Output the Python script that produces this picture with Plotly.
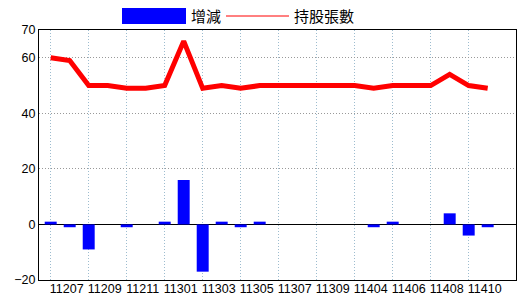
import plotly.graph_objects as go

months = ['11206', '11207', '11208', '11209', '11210', '11211', '11212', '11301',
          '11302', '11303', '11304', '11305', '11306', '11307', '11308', '11309',
          '11310', '11404', '11405', '11406', '11407', '11408', '11409', '11410']
change = [1, -1, -9, 0, -1, 0, 1, 16, -17, 1, -1, 1, 0, 0, 0, 0, 0, -1, 1, 0, 0, 4, -4, -1]
holders = [60, 59, 50, 50, 49, 49, 50, 66, 49, 50, 49, 50, 50, 50, 50, 50, 50, 49, 50, 50, 50, 54, 50, 49]
y_ticks = [-20, 0, 20, 40, 60, 70]

x = list(range(len(months)))
fig = go.Figure()
fig.add_trace(go.Bar(x=x, y=change, name='增減', marker=dict(color='#0000ff', line=dict(width=0))))
fig.add_trace(go.Scatter(x=x, y=holders, name='持股張數', mode='lines',
                         line=dict(color='#ff0000', width=5)))

tv = x[1::2]
fig.update_layout(
    template='none',
    width=520, height=300,
    margin=dict(l=39, r=4, t=30, b=20),
    paper_bgcolor='white', plot_bgcolor='white',
    showlegend=False, bargap=0.37,
    font=dict(family='Liberation Sans Narrow, Liberation Sans', size=12.5, color='black'),
    xaxis=dict(range=[-0.616, 24.49], tickmode='array', tickvals=tv, automargin=False,
               ticktext=[months[i] for i in tv], showgrid=False, ticks='',
               ticklabelshift=-3, ticklabelstandoff=-3,
               showline=True, linecolor='black', linewidth=1, mirror=True, zeroline=False,
               minor=dict(tickmode='array', tickvals=x[0::2], showgrid=True,
                          gridcolor='#9dbccf', griddash='1px,2px', gridwidth=1, ticks='')),
    yaxis=dict(range=[-20, 70], tickmode='array', tickvals=y_ticks, showgrid=True, automargin=False,
               gridcolor='#999999', griddash='1px,2px', gridwidth=1, ticks='',
               showline=True, linecolor='black', linewidth=1, mirror=True,
               zeroline=True, zerolinecolor='black', zerolinewidth=1),
)

def px2x(p):
    return (p - 39) / 477

def py2y(p):
    return (280 - p) / 250

fig.add_shape(type='rect', xref='paper', yref='paper', x0=px2x(122), x1=px2x(186),
              y0=py2y(24), y1=py2y(8), fillcolor='#0000ff', line=dict(width=0))
fig.add_shape(type='line', xref='paper', yref='paper', x0=px2x(226), x1=px2x(289),
              y0=py2y(16), y1=py2y(16), line=dict(color='#ff0000', width=1))
fig.add_annotation(xref='paper', yref='paper', x=px2x(189), y=py2y(16), text='增減',
                   showarrow=False, xanchor='left', yanchor='middle',
                   font=dict(family='Noto Sans CJK TC', size=15, color='black'))
fig.add_annotation(xref='paper', yref='paper', x=px2x(292), y=py2y(16), text='持股張數',
                   showarrow=False, xanchor='left', yanchor='middle',
                   font=dict(family='Noto Sans CJK TC', size=15, color='black'))

fig.write_html('out.html')
